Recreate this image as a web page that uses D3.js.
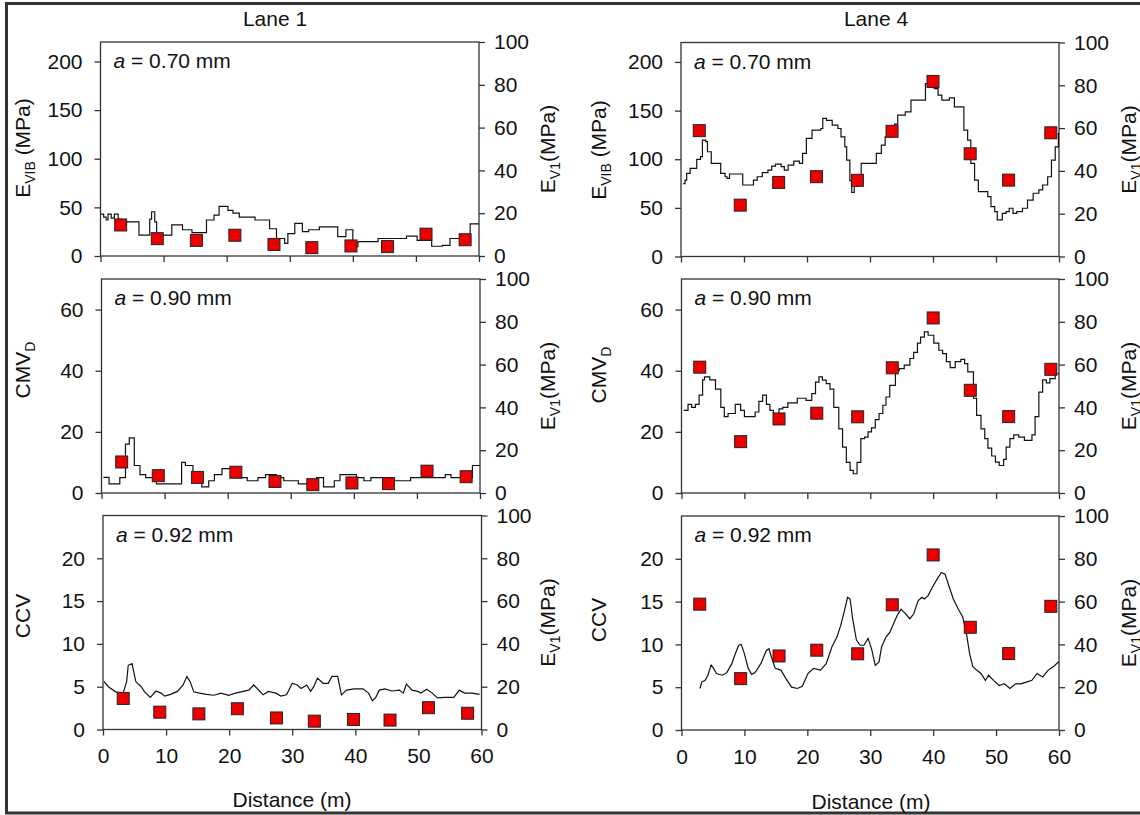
<!DOCTYPE html>
<html>
<head>
<meta charset="utf-8">
<script src="https://cdn.jsdelivr.net/npm/d3@7"></script>
<style>
  body { margin: 0; background: #fff; }
  svg { display: block; font-family: "Liberation Sans", Arial, sans-serif; }
</style>
</head>
<body>
<svg id="chart" width="1140" height="815"></svg>
<script>
// ---- tick values -------------------------------------------------------
const distanceTicks = [0, 10, 20, 30, 40, 50, 60];
const ev1Ticks = [0, 20, 40, 60, 80, 100];
const evibTicks = [0, 50, 100, 150, 200];
const cmvTicks = [0, 20, 40, 60];
const ccvTicks = [0, 5, 10, 15, 20];

// ---- plate load test points (distance m, E_V1 MPa) ----------------------
const lane1PlateX = [3.2, 9.0, 15.2, 21.3, 27.5, 33.5, 39.7, 45.5, 51.6, 57.8];
const lane1Ev1 = [14.5, 8.1, 7.3, 9.7, 5.4, 3.9, 4.7, 4.4, 10.2, 7.6];
const lane4PlateX = [2.9, 9.4, 15.5, 21.5, 28.0, 33.5, 40.0, 45.9, 52.0, 58.7];
const lane4Ev1 = [58.8, 24.0, 34.6, 37.3, 35.6, 58.5, 81.8, 48.0, 35.7, 57.8];

// ---- roller-integrated measurements [distance m, value] -----------------
const lane1Evib = [[0,43],[0.5,40],[0.9,37],[1.2,43],[1.7,39],[2.2,43],[2.8,38],[3.3,33],[4.1,35],[6.1,21.5],[7.8,38],[8.1,45.5],[8.6,35],[8.9,21.5],[11.3,32],[13,27],[14.5,24],[16.8,37],[18,42],[18.8,51],[20.2,47],[21,44],[22,40],[24.5,37],[26.8,28],[27.9,18],[29.2,13],[29.7,23],[30.8,33.5],[32,25],[33,27],[34.7,30],[37.6,20],[38.9,27],[40,9.6],[40.8,14.7],[44,18],[48.5,20.5],[50.2,16],[52.5,10],[54.2,11],[55.4,18],[57.7,20],[58.6,33],[60,33]];
const lane1Cmv = [[0.3,5.1],[1.2,3],[2.9,5],[3.8,16],[4.4,18],[5.2,9],[6.1,6],[7,5],[8.7,3],[12.7,10],[13.3,9],[14.5,4],[15.9,2],[17,4],[17.9,6],[19.1,8],[21.4,5],[23.1,4],[24.8,5],[26,6],[27.7,5],[28.9,4],[31.2,3],[32.9,4],[34.1,5],[35.2,2],[36.9,4],[37.8,6],[40.4,5],[41.6,4],[42.7,5],[46.2,4],[49,5],[54.5,6],[55.4,5],[58.8,9],[60,9]];
const lane1Ccv = [[0.17,5.6],[0.86,5.0],[2.0,4.4],[3.2,4.25],[3.75,5.6],[4.0,7.5],[4.6,7.7],[5.2,5.6],[6.05,5.0],[6.6,4.4],[7.5,3.75],[8.4,4.5],[9.2,4.25],[9.8,3.9],[10.7,4.1],[11.8,4.45],[12.7,5.2],[13.3,6.2],[13.8,5.6],[14.4,4.4],[15.3,4.25],[16.4,4.1],[17.6,4.0],[18.7,4.25],[19.9,4.0],[21.0,4.25],[22.2,4.45],[23.1,4.6],[23.9,5.2],[24.8,4.5],[25.4,4.05],[26.2,4.45],[27.4,4.25],[28.2,3.9],[29.1,4.05],[30.0,5.4],[30.8,5.2],[31.4,4.8],[32.3,5.2],[32.9,4.45],[33.4,5.0],[34.0,6.0],[34.9,5.4],[35.7,5.4],[36.3,6.2],[37.2,6.2],[37.8,4.05],[38.6,4.6],[39.8,4.75],[41.2,4.75],[42.1,4.25],[42.7,3.35],[43.2,3.7],[43.8,4.6],[44.7,4.75],[45.8,4.5],[47.0,4.6],[47.6,4.25],[48.1,5.3],[49.0,4.6],[49.9,4.45],[50.4,4.25],[51.3,4.7],[52.2,4.25],[53.0,3.7],[54.2,3.75],[55.6,3.75],[56.5,4.6],[57.3,4.25],[58.5,4.25],[59.7,4.1]];

const lane4Evib = [[0.35,75],[0.64,78.6],[0.9,85.5],[1.45,90.6],[2.5,99.8],[3.1,102.6],[3.4,119.7],[3.95,118],[4.2,107.7],[4.8,95.7],[6.3,85.5],[7.0,82],[7.3,80.3],[7.7,84.8],[9.8,73.5],[11.5,78.6],[12.1,82],[12.9,86.2],[13.8,88.9],[14.4,93],[15.0,95],[15.9,92.3],[16.4,88.9],[17,94],[17.9,98.1],[18.8,95.7],[19.3,106],[19.9,121.4],[20.8,130],[22.2,131.6],[22.5,141.9],[23.1,140],[24,135],[24.9,131.6],[25.4,123],[26,112.8],[26.3,99],[26.8,78],[27.1,66],[27.5,72],[28,78],[28.6,95.7],[31,106],[31.8,114.5],[32.4,123],[33.3,130],[33.9,136],[34.4,145.3],[35.6,148.7],[36.5,160.7],[38.8,177.8],[40,181],[40.2,172.6],[40.8,165.8],[41.4,160.7],[42.6,163],[43.4,153.8],[44.9,130],[45.5,119.7],[46,95.7],[46.6,78.6],[47.2,66.7],[48.7,61.5],[49.2,51.3],[49.8,46.2],[50.2,37.6],[51,44.4],[51.6,46.2],[52.1,49.6],[52.7,44.4],[53.3,46.2],[54.2,49.6],[55,58],[55.9,65],[56.8,68.4],[57.4,73.5],[58.2,82],[58.8,99],[59.4,112.8],[59.9,126.5],[60,126.5]];
const lane4Cmv = [[0.35,27],[1.04,29],[1.6,28],[2.2,29],[2.8,32],[3.35,37],[3.65,38],[4.5,37],[5.4,34],[6.25,28],[6.8,25],[7.4,26],[8.55,29],[9.4,27],[10.0,25],[11.7,26.5],[12.3,30],[12.9,32],[13.5,29],[14.05,27],[14.6,26],[15.5,27.5],[16.1,28],[16.9,29.5],[18.4,31],[19.8,30.3],[20.7,32.5],[21.3,36.3],[21.85,38],[22.4,36.9],[23.0,35.8],[23.6,34],[24.2,28],[25.0,21],[25.6,15],[26.2,10],[26.8,7.4],[27.3,6.3],[27.9,10],[28.5,17.8],[29.1,18.3],[29.65,20],[30.2,21.3],[30.8,24],[31.4,26],[32.0,28.7],[32.5,31.4],[33.1,35.2],[34.0,40.1],[34.6,40.7],[35.4,41.8],[36.3,44],[36.9,46],[37.5,49],[38.0,51],[38.6,52.7],[39.2,51.6],[40.1,49],[40.9,46.7],[41.5,45.6],[42.1,43],[42.7,41],[43.5,43],[44.4,43.7],[45.0,42.3],[45.5,39.6],[46.4,31],[46.9,25.4],[47.6,21],[48.2,17.8],[48.7,14.7],[49.3,12.1],[49.9,10.1],[50.5,9],[51.2,11],[51.6,15],[52.2,17.8],[52.8,19],[53.6,18.3],[54.5,17.2],[55.7,19],[56.2,25],[56.8,33],[57.4,37],[58.0,36],[58.55,37.4],[59.4,39],[60,39]];
const lane4Ccv = [[2.95,4.85],[3.2,5.6],[3.75,5.8],[4.2,6.4],[4.7,7.6],[5.1,7.2],[5.55,6.6],[6.5,6.4],[7.2,6.7],[8.0,7.75],[8.55,8.9],[9.1,9.9],[9.5,10],[10.0,8.9],[10.6,7.2],[11.15,6.5],[11.7,6.7],[12.6,7.75],[13.5,9.3],[13.9,9.5],[14.3,8.5],[14.9,7.2],[15.8,7.0],[16.6,6.0],[17.5,5.0],[18.4,4.85],[19.2,5.1],[20.1,6.6],[21.0,7.2],[22.1,7.0],[23.0,7.75],[23.9,9.7],[24.7,10.85],[25.3,12.2],[25.9,13.95],[26.4,15.5],[26.8,15.3],[27.2,13.0],[27.8,10.5],[28.4,9.9],[29.0,9.9],[29.65,10.7],[30.2,9.5],[30.8,7.55],[31.4,7.95],[31.8,9.7],[32.5,10.85],[33.1,11.4],[33.7,12.4],[34.3,13.4],[34.9,14.1],[35.4,13.75],[36.3,13.0],[36.9,13.55],[37.6,15.1],[38.2,15.5],[38.6,15.3],[39.2,15.7],[39.9,16.7],[40.6,17.6],[41.3,18.4],[41.9,18.2],[42.4,17.05],[43.2,15.3],[44.0,14.1],[44.7,13.2],[45.3,11.2],[45.8,8.9],[46.3,7.4],[46.9,7.0],[47.6,6.6],[48.3,5.8],[48.8,6.4],[49.6,5.8],[50.5,5.2],[51.3,5.4],[52.2,4.85],[53.1,5.4],[53.9,5.4],[54.8,5.6],[55.7,5.8],[56.5,6.6],[57.4,6.2],[58.3,7.0],[59.1,7.4],[60,8.0]];

// ---- panel definitions ---------------------------------------------------
const evibTitle = [{t: "E"}, {t: "VIB", sub: true}, {t: " (MPa)"}];
const cmvTitle = [{t: "CMV"}, {t: "D", sub: true}];
const ccvTitle = [{t: "CCV"}];
const ev1Title = [{t: "E"}, {t: "V1", sub: true}, {t: "(MPa)"}];

const panels = [
  {left: 100.5, top: 42,    w: 378.5, lane: "Lane 1", a: "0.70", trace: lane1Evib, dom: 220, ticks: evibTicks, title: evibTitle, tY: 148, step: true,  px: lane1PlateX, pv: lane1Ev1, r: 0},
  {left: 101.5, top: 279,   w: 378.5, a: "0.90", trace: lane1Cmv,  dom: 70,  ticks: cmvTicks,  title: cmvTitle,  tY: 370, step: true,  px: lane1PlateX, pv: lane1Ev1, r: 1},
  {left: 103,   top: 515.5, w: 378.5, a: "0.92", trace: lane1Ccv,  dom: 25,  ticks: ccvTicks,  title: ccvTitle,  tY: 616, step: false, px: lane1PlateX, pv: lane1Ev1, r: 2},
  {left: 681,   top: 42.5,  w: 378,   lane: "Lane 4", a: "0.70", trace: lane4Evib, dom: 220, ticks: evibTicks, title: evibTitle, tY: 150, step: true,  px: lane4PlateX, pv: lane4Ev1, r: 0},
  {left: 681.5, top: 279,   w: 377.5, a: "0.90", trace: lane4Cmv,  dom: 70,  ticks: cmvTicks,  title: cmvTitle,  tY: 375, step: true,  px: lane4PlateX, pv: lane4Ev1, r: 1},
  {left: 681.5, top: 516,   w: 377.5, a: "0.92", trace: lane4Ccv,  dom: 25,  ticks: ccvTicks,  title: ccvTitle,  tY: 620, step: false, px: lane4PlateX, pv: lane4Ev1, r: 2}
];
const panelH = 214;
const axisColor = "#333";
const fontSize = 21;

const svg = d3.select("#chart");

// outer frame of the figure
svg.append("path")
  .attr("d", "M1145,3.5 L6.5,3.5 L6.5,813 L1145,813")
  .attr("fill", "none").attr("stroke", "#333").attr("stroke-width", 3);

function addLabel(sel, x, y, parts, rotate) {
  const t = sel.append("text")
    .attr("transform", `translate(${x},${y})` + (rotate ? " rotate(-90)" : ""))
    .attr("text-anchor", "middle")
    .attr("font-size", fontSize)
    .attr("fill", "#111");
  let shifted = false;
  parts.forEach(p => {
    const s = t.append("tspan").text(p.t);
    if (p.sub) { s.attr("font-size", 14).attr("dy", 5); shifted = true; }
    else if (shifted) { s.attr("dy", -5); shifted = false; }
  });
  return t;
}

panels.forEach((p, i) => {
  const g = svg.append("g").attr("transform", `translate(${p.left},${p.top})`);
  const x = d3.scaleLinear().domain([0, 60]).range([0, p.w]);
  const yL = d3.scaleLinear().domain([0, p.dom]).range([panelH, 0]);
  const yR = d3.scaleLinear().domain([0, 100]).range([panelH, 0]);

  const clipId = "clip" + i;
  g.append("clipPath").attr("id", clipId)
    .append("rect").attr("x", 0).attr("y", 0).attr("width", p.w).attr("height", panelH);

  // axes
  const styleAxis = a => {
    a.select(".domain").remove();
    a.selectAll("line").attr("stroke", axisColor).attr("stroke-width", 1.3);
    a.selectAll("text").attr("font-size", fontSize).attr("fill", "#111")
      .attr("font-family", "'Liberation Sans', Arial, sans-serif");
  };
  g.append("g").call(d3.axisLeft(yL).tickValues(p.ticks).tickSize(6).tickPadding(12).tickSizeOuter(0)).call(styleAxis);
  g.append("g").attr("transform", `translate(${p.w},0)`)
    .call(d3.axisRight(yR).tickValues(ev1Ticks).tickSize(6).tickPadding(9).tickSizeOuter(0)).call(styleAxis);
  const xAxis = d3.axisBottom(x).tickValues(distanceTicks).tickSize(6).tickPadding(13).tickSizeOuter(0);
  if (p.r < 2) xAxis.tickFormat("");
  g.append("g").attr("transform", `translate(0,${panelH})`).call(xAxis).call(styleAxis);

  // frame
  g.append("rect").attr("width", p.w).attr("height", panelH)
    .attr("fill", "none").attr("stroke", axisColor).attr("stroke-width", 1.3);

  // roller trace
  const line = d3.line()
    .x(d => x(d[0])).y(d => yL(d[1]))
    .curve(p.step ? d3.curveStepAfter : d3.curveLinear);
  g.append("path").datum(p.trace)
    .attr("clip-path", `url(#${clipId})`)
    .attr("d", line)
    .attr("fill", "none").attr("stroke", "#111").attr("stroke-width", 1.2)
    .attr("stroke-linejoin", "miter");

  // plate load test points on the right axis
  const sq = 12;
  g.selectAll("rect.pt").data(p.px.map((d, k) => [d, p.pv[k]])).join("rect")
    .attr("class", "pt")
    .attr("x", d => x(d[0]) - sq / 2).attr("y", d => yR(d[1]) - sq / 2)
    .attr("width", sq).attr("height", sq)
    .attr("fill", "#ee0000").attr("stroke", "#222").attr("stroke-width", 1);

  // contact width annotation
  const ann = g.append("text").attr("x", 13).attr("y", 26)
    .attr("font-size", fontSize).attr("fill", "#111");
  ann.append("tspan").attr("font-style", "italic").text("a");
  ann.append("tspan").text(` = ${p.a} mm`);

  // axis titles
  const leftTitleX = p.left < 400 ? 30 - p.left : 606 - p.left;
  addLabel(g, leftTitleX, p.tY - p.top, p.title, true);
  const rightTitleX = p.left < 400 ? 555 - p.left : 1136 - p.left;
  addLabel(g, rightTitleX, (p.top + panelH / 2) - p.top, ev1Title, true);

  if (p.lane) {
    addLabel(svg, p.left < 400 ? 275 : 876, 26, [{t: p.lane}], false);
  }
  if (p.r === 2) {
    addLabel(svg, p.left < 400 ? 292 : 871, p.left < 400 ? 807 : 809, [{t: "Distance (m)"}], false);
  }
});
</script>
</body>
</html>
